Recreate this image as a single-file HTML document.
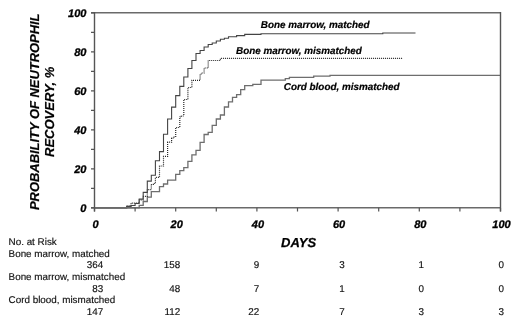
<!DOCTYPE html>
<html><head><meta charset="utf-8"><style>
html,body{margin:0;padding:0;background:#fff;}
svg{display:block;filter:grayscale(1);}
text{font-family:"Liberation Sans",sans-serif;text-rendering:geometricPrecision;}
.bi{font-weight:bold;font-style:italic;fill:#000;}
</style></head><body>
<svg width="520" height="326" viewBox="0 0 520 326">
<rect width="520" height="326" fill="#fff"/>
<g fill="none" stroke-linejoin="miter" stroke-linecap="butt">
<path d="M94.5,207.8 L139.2,207.8 L139.2,205.3 L143.2,205.3 L143.2,201.5 L147.3,201.5 L147.3,197.1 L151.3,197.1 L151.3,191.6 L159.5,191.6 L159.5,186.7 L163.5,186.7 L163.5,184.0 L167.6,184.0 L167.6,180.2 L175.7,180.2 L175.7,174.3 L179.8,174.3 L179.8,170.7 L183.8,170.7 L183.8,167.7 L187.9,167.7 L187.9,161.4 L191.9,161.4 L191.9,154.8 L196.0,154.8 L196.0,150.4 L200.1,150.4 L200.1,142.4 L204.1,142.4 L204.1,134.5 L208.2,134.5 L208.2,132.3 L212.2,132.3 L212.2,125.4 L216.3,125.4 L216.3,119.0 L220.4,119.0 L220.4,115.0 L224.4,115.0 L224.4,107.0 L228.5,107.0 L228.5,101.8 L232.5,101.8 L232.5,97.4 L236.6,97.4 L236.6,94.7 L240.7,94.7 L240.7,89.7 L244.7,89.7 L244.7,85.7 L252.8,85.7 L252.8,84.4 L261.0,84.4 L261.0,80.2 L285.3,80.2 L285.3,78.7 L289.4,78.7 L289.4,77.4 L313.7,77.4 L313.7,76.2 L330.0,76.2 L330.0,75.3 L500.4,75.3" stroke="#6e6e6e" stroke-width="1.3"/>
<path d="M94.5,207.8 L126.6,207.8 L126.6,206.0 L131.0,206.0 L131.0,203.1 L139.2,203.1 L139.2,200.0 L143.2,200.0 L143.2,196.4 L147.3,196.4 L147.3,189.6 L151.3,189.6 L151.3,184.5 L153.4,184.5 L153.4,183.5 L155.4,183.5 L155.4,177.4 L159.5,177.4 L159.5,166.0 L163.5,166.0 L163.5,156.3 L167.6,156.3 L167.6,142.2 L171.6,142.2 L171.6,138.0 L174.1,138.0 L174.1,137.0 L175.7,137.0 L175.7,127.5 L179.8,127.5 L179.8,117.0 L181.4,117.0 L181.4,116.0 L183.8,116.0 L183.8,99.5 L187.9,99.5 L187.9,87.5 L191.9,87.5 L191.9,80.3 L200.1,80.3 L200.1,74.0 L201.7,74.0 L201.7,73.0 L204.1,73.0 L204.1,68.0 L208.2,68.0 L208.2,60.5 L220.4,60.5 L220.4,58.4 L403.0,58.4" stroke="#262626" stroke-width="1.2" stroke-dasharray="1 1"/>
<path d="M94.5,207.8 L126.6,207.8 L126.6,206.4 L131.0,206.4 L131.0,205.5 L135.1,205.5 L135.1,203.5 L139.2,203.5 L139.2,199.1 L143.2,199.1 L143.2,192.4 L147.3,192.4 L147.3,181.1 L151.3,181.1 L151.3,175.3 L155.4,175.3 L155.4,160.8 L159.5,160.8 L159.5,151.6 L163.5,151.6 L163.5,134.3 L167.6,134.3 L167.6,119.0 L171.6,119.0 L171.6,107.1 L175.7,107.1 L175.7,95.6 L179.8,95.6 L179.8,86.4 L183.8,86.4 L183.8,77.0 L187.9,77.0 L187.9,68.5 L191.9,68.5 L191.9,60.5 L196.0,60.5 L196.0,53.5 L200.1,53.5 L200.1,50.5 L204.1,50.5 L204.1,47.0 L208.2,47.0 L208.2,44.5 L212.2,44.5 L212.2,43.0 L216.3,43.0 L216.3,41.0 L220.4,41.0 L220.4,39.2 L224.4,39.2 L224.4,38.2 L228.5,38.2 L228.5,36.8 L236.6,36.8 L236.6,35.6 L244.7,35.6 L244.7,34.4 L261.0,34.4 L261.0,33.8 L382.8,33.8 L382.8,33.0 L415.5,33.0" stroke="#444" stroke-width="1.1"/>
<path d="M91,12.8 H500.4 M91,207.8 H500.4" stroke="#6a6a6a" stroke-width="1.5"/>
<path d="M500.5,12.1 V211.5 M94.5,12.1 V211.5" stroke="#555" stroke-width="1.4"/>
<path d="M91,207.80 H94.5 M91,188.30 H94.5 M91,168.80 H94.5 M91,149.30 H94.5 M91,129.80 H94.5 M91,110.30 H94.5 M91,90.80 H94.5 M91,71.30 H94.5 M91,51.80 H94.5 M91,32.30 H94.5 M91,12.80 H94.5 M94.50,207.8 V211.5 M135.10,207.8 V211.5 M175.70,207.8 V211.5 M216.30,207.8 V211.5 M256.90,207.8 V211.5 M297.50,207.8 V211.5 M338.10,207.8 V211.5 M378.70,207.8 V211.5 M419.30,207.8 V211.5 M459.90,207.8 V211.5 M500.50,207.8 V211.5" stroke="#555" stroke-width="1.2"/>
</g>
<g class="bi" font-size="11" stroke="#000" stroke-width="0.3"><text x="86.4" y="212.2" text-anchor="end">0</text><text x="86.4" y="173.2" text-anchor="end">20</text><text x="86.4" y="134.2" text-anchor="end">40</text><text x="86.4" y="95.2" text-anchor="end">60</text><text x="86.4" y="56.2" text-anchor="end">80</text><text x="86.4" y="17.2" text-anchor="end">100</text><text x="95.5" y="227.8" text-anchor="middle">0</text><text x="176.7" y="227.8" text-anchor="middle">20</text><text x="257.9" y="227.8" text-anchor="middle">40</text><text x="339.1" y="227.8" text-anchor="middle">60</text><text x="420.3" y="227.8" text-anchor="middle">80</text><text x="501.5" y="227.8" text-anchor="middle">100</text></g>
<text class="bi" font-size="13" x="281" y="246.6" stroke="#000" stroke-width="0.25">DAYS</text>
<g class="bi" font-size="9.9" stroke="#000" stroke-width="0.2">
<text x="260.8" y="27.9">Bone marrow, matched</text>
<text x="236" y="54">Bone marrow, mismatched</text>
<text x="283.8" y="90.2">Cord blood, mismatched</text>
</g>
<g class="bi" font-size="13" stroke="#000" stroke-width="0.2">
<text transform="translate(39,210) rotate(-90)" font-size="12.93">PROBABILITY OF NEUTROPHIL</text>
<text transform="translate(54,157) rotate(-90)">RECOVERY, %</text>
</g>
<g font-size="9.85" fill="#111" stroke="#111" stroke-width="0.15"><text x="8.6" y="245.1">No. at Risk</text><text x="8.6" y="256.8">Bone marrow, matched</text><text x="103.3" y="268.4" text-anchor="end">364</text><text x="180.3" y="268.4" text-anchor="end">158</text><text x="259.3" y="268.4" text-anchor="end">9</text><text x="344.7" y="268.4" text-anchor="end">3</text><text x="424" y="268.4" text-anchor="end">1</text><text x="504" y="268.4" text-anchor="end">0</text><text x="8.6" y="280.1">Bone marrow, mismatched</text><text x="103.3" y="291.8" text-anchor="end">83</text><text x="180.3" y="291.8" text-anchor="end">48</text><text x="259.3" y="291.8" text-anchor="end">7</text><text x="344.7" y="291.8" text-anchor="end">1</text><text x="424" y="291.8" text-anchor="end">0</text><text x="504" y="291.8" text-anchor="end">0</text><text x="8.6" y="303.4">Cord blood, mismatched</text><text x="103.3" y="315.1" text-anchor="end">147</text><text x="180.3" y="315.1" text-anchor="end">112</text><text x="259.3" y="315.1" text-anchor="end">22</text><text x="344.7" y="315.1" text-anchor="end">7</text><text x="424" y="315.1" text-anchor="end">3</text><text x="504" y="315.1" text-anchor="end">3</text></g>
</svg>
</body></html>
